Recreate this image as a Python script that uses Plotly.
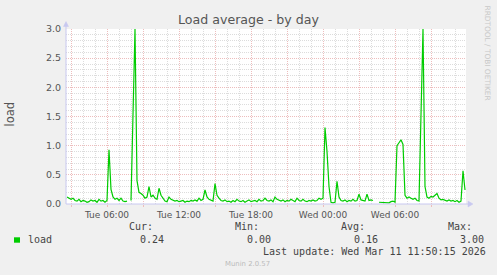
import pandas as pd
import plotly.graph_objects as go

# ---- data (10-minute samples, Tue 10 Mar 2026 02:40 -> Wed 11 Mar 11:50) ----
start_time = "2026-03-10 02:40"
step = "10min"
load_values = [
    0.12, 0.10, 0.08, 0.10, 0.06, 0.05, 0.08, 0.04, 0.06, 0.05,
    0.03, 0.04, 0.07, 0.05, 0.06, 0.03, 0.08, 0.05, 0.06, 0.03,
    0.06, 0.93, 0.25, 0.12, 0.08, 0.10, 0.06, 0.10, 0.05, 0.04, 0.05, None,
    0.06, 1.50, 3.00, 0.40, 0.20, 0.18, 0.15, 0.10, 0.12,
    0.30, 0.12, 0.15, 0.10, 0.08, 0.27, 0.15, 0.10, 0.05, 0.04,
    0.12, 0.08, 0.06, 0.05, 0.06, 0.04, 0.05, 0.06, 0.03, 0.05,
    0.04, 0.06, 0.05, 0.07, 0.05, 0.10, 0.06, 0.08, 0.24, 0.12,
    0.08, 0.06, 0.05, 0.35, 0.15, 0.10, 0.06, 0.05, 0.07, 0.04,
    0.05, 0.03, 0.06, 0.04, 0.08, 0.05, 0.04, 0.06, 0.03, 0.05,
    0.07, 0.04, 0.05, 0.06, 0.04, 0.08, 0.05, 0.06, 0.10, 0.06,
    0.05, 0.07, 0.04, 0.12, 0.08, 0.06, 0.05, 0.07, 0.04, 0.06,
    0.05, 0.08, 0.06, 0.04, 0.10, 0.06, 0.05, 0.08, 0.05, 0.04,
    0.06, 0.05, 0.07, 0.05, 0.06, 0.10, 0.08,
    0.10, 1.31, 0.90, 0.30, 0.03, 0.02, 0.03, 0.39, 0.12, 0.06,
    0.05, 0.07, 0.04, 0.06, 0.05, 0.08, 0.05, 0.06, 0.17, 0.07,
    0.06, 0.05, 0.17, 0.06, 0.07, 0.06,
    None, None,
    0.03, 0.03, 0.02, 0.03, 0.03, 0.02, 0.04, 0.05, 0.03,
    1.00, 1.05, 1.10, 1.02, 0.15, 0.10, 0.12, 0.10, 0.08, 0.10, 0.06, 0.05,
    1.50, 3.00, 0.30, 0.12, 0.10, 0.13, 0.12, 0.15, 0.18, 0.10, 0.07, 0.08, 0.06,
    0.05, 0.07, 0.05, 0.06, 0.04, 0.06, 0.03, 0.05, 0.57, 0.24,
]
times = pd.date_range(start_time, periods=len(load_values), freq=step)

x_range = ["2026-03-10 02:35", "2026-03-11 11:55"]
x_tick_vals = pd.date_range("2026-03-10 03:00", "2026-03-11 09:00", freq="3h")
x_tick_text = [t.strftime("%a %H:%M") if t.hour % 6 == 0 else "" for t in x_tick_vals]
y_tick_vals = [0.0, 0.5, 1.0, 1.5, 2.0, 2.5, 3.0]
y_tick_text = ["0.0", "0.5", "1.0", "1.5", "2.0", "2.5", "3.0"]

series_name = "load"
stat_labels = ["Cur:", "Min:", "Avg:", "Max:"]
stat_values = ["0.24", "0.00", "0.16", "3.00"]
last_update = "Last update: Wed Mar 11 11:50:15 2026"

# ---- layout helpers (pixel -> paper) ----
L, R, T, B = 66, 31, 29, 71
W, H = 497, 275
PW, PH = W - L - R, H - T - B
def px(x):
    return (x - L) / PW
def py(y):
    return (H - B - y) / PH

GREEN = "#00CC00"
MAJ = "#EDBDBD"
MIN = "#DCDCDC"
AXIS = "#C8C8F0"
TXT = "#555555"

fig = go.Figure()
fig.add_trace(go.Scatter(x=times, y=load_values, mode="lines",
                         line=dict(color=GREEN, width=1.2),
                         connectgaps=False, showlegend=False, hoverinfo="skip"))

fig.update_layout(
    width=W, height=H,
    margin=dict(l=L, r=R, t=T, b=B, pad=0),
    paper_bgcolor="#F0F0F0", plot_bgcolor="#FFFFFF",
    title=dict(text="Load average - by day", x=0.5, xref="container", xanchor="center",
               y=1 - 19.6 / H, yref="container", yanchor="middle",
               font=dict(family="DejaVu Sans", size=12.6, color=TXT)),
    font=dict(family="DejaVu Sans", color=TXT),
    xaxis=dict(type="date", range=x_range, tickmode="array",
               tickvals=list(x_tick_vals), ticktext=x_tick_text,
               showgrid=True, gridcolor=MAJ, griddash="1px,1px", gridwidth=1,
               ticks="outside", ticklen=2, tickcolor=MAJ,
               tickfont=dict(size=9, color=TXT),
               minor=dict(tickmode="linear", tick0="2026-03-10 00:00", dtick=3600000,
                          showgrid=True, gridcolor=MIN, griddash="1px,1px", gridwidth=1,
                          ticks=""),
               showline=False, zeroline=False, fixedrange=True),
    yaxis=dict(range=[0, 3.0], tickmode="array", tickvals=y_tick_vals, ticktext=y_tick_text,
               showgrid=True, gridcolor=MAJ, griddash="1px,1px", gridwidth=1,
               ticks="", ticklabelstandoff=4,
               tickfont=dict(size=9.5, color=TXT),
               minor=dict(tickmode="linear", tick0=0, dtick=0.1,
                          showgrid=True, gridcolor=MIN, griddash="1px,1px", gridwidth=1),
               showline=False, zeroline=False, fixedrange=True),
)

# axis lines with arrows
shapes = [
    dict(type="line", xref="paper", yref="paper", x0=px(66), x1=px(66), y0=py(204), y1=py(25),
         line=dict(color=AXIS, width=1)),
    dict(type="line", xref="paper", yref="paper", x0=px(66), x1=px(469), y0=py(204), y1=py(204),
         line=dict(color=AXIS, width=1)),
    dict(type="path", xref="paper", yref="paper",
         path=f"M {px(63.5)},{py(26.5)} L {px(68.5)},{py(26.5)} L {px(66)},{py(21.5)} Z",
         fillcolor=AXIS, line=dict(color=AXIS, width=0.5)),
    dict(type="path", xref="paper", yref="paper",
         path=f"M {px(468)},{py(201)} L {px(468)},{py(207)} L {px(473)},{py(204)} Z",
         fillcolor=AXIS, line=dict(color=AXIS, width=0.5)),
    # legend colour box
    dict(type="rect", xref="paper", yref="paper", x0=px(14), x1=px(20), y0=py(237.3), y1=py(242.7),
         fillcolor=GREEN, line=dict(width=0)),
]
fig.update_layout(shapes=shapes)

mono = dict(family="DejaVu Sans Mono", size=10, color="#444444")
ann = []
def add_text(text, x, y, font, xanchor="left", angle=0):
    ann.append(dict(text=text, x=px(x), y=py(y), xref="paper", yref="paper",
                    xanchor=xanchor, yanchor="middle", showarrow=False,
                    textangle=angle, font=font, borderpad=0))

add_text(series_name, 26.7, 239.3, mono)
label_x = [127.7, 234.3, 340.0, 446.7]
value_x = [139.3, 246.0, 352.7, 459.3]
for lab, lx in zip(stat_labels, label_x):
    add_text(lab, lx, 226.7, mono)
for val, vx in zip(stat_values, value_x):
    add_text(val, vx, 239.3, mono)
add_text(last_update, 261.7, 251.7, mono)
add_text("Munin 2.0.57", 247.8, 264.3, dict(family="DejaVu Sans", size=6.9, color="#BBBBBB"),
         xanchor="center")
add_text("load", 9.5, 114, dict(family="DejaVu Sans", size=11.5, color=TXT),
         xanchor="center", angle=-90)
add_text("RRDTOOL / TOBI OETIKER", 487, 52.5, dict(family="DejaVu Sans", size=7.4, color="#C8C8C8"),
         xanchor="center", angle=90)
fig.update_layout(annotations=ann)

fig.write_html("out.html")
